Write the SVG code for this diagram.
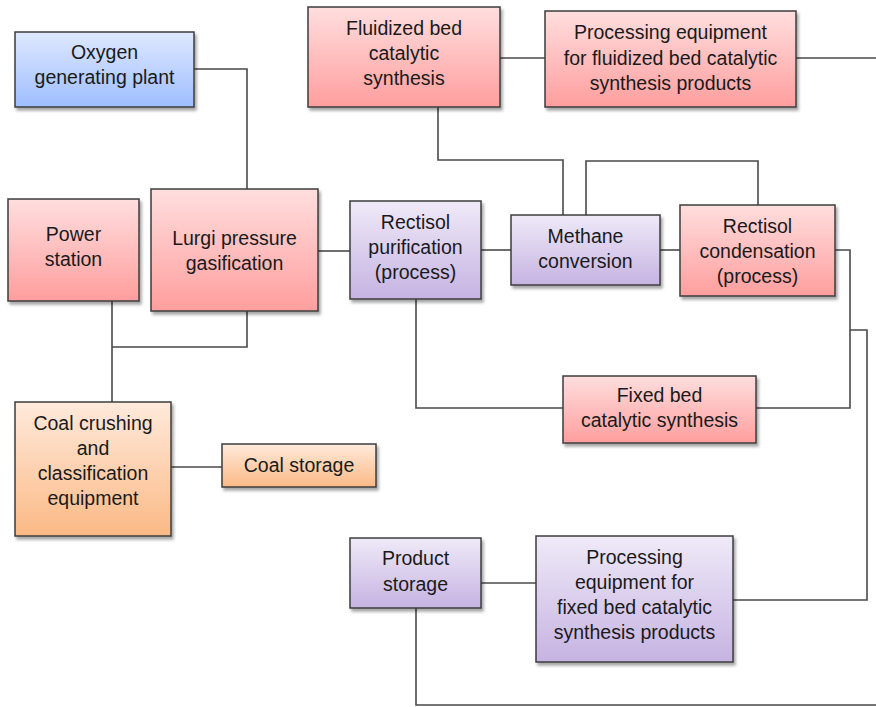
<svg xmlns="http://www.w3.org/2000/svg" width="876" height="707" viewBox="0 0 876 707">
<style>
.box{stroke:#3c3c3c;stroke-width:1.5;filter:url(#sh)}
.red{fill:url(#gRed)}
.blue{fill:url(#gBlue)}
.pur{fill:url(#gPur)}
.org{fill:url(#gOrg)}
text{font-family:"Liberation Sans",Arial,sans-serif;font-size:19.5px;fill:#1a1a1a;text-anchor:middle}
.conn path{fill:none;stroke:#4a4a4a;stroke-width:1.6}
</style>
<defs>
<linearGradient id="gRed" x1="0" y1="0" x2="0" y2="1"><stop offset="0" stop-color="#ffdede"/><stop offset="1" stop-color="#ff9e9e"/></linearGradient>
<linearGradient id="gBlue" x1="0" y1="0" x2="0" y2="1"><stop offset="0" stop-color="#dfe9ff"/><stop offset="1" stop-color="#9ebeff"/></linearGradient>
<linearGradient id="gPur" x1="0" y1="0" x2="0" y2="1"><stop offset="0" stop-color="#efeaf8"/><stop offset="1" stop-color="#c6b3e2"/></linearGradient>
<linearGradient id="gOrg" x1="0" y1="0" x2="0" y2="1"><stop offset="0" stop-color="#ffeadc"/><stop offset="1" stop-color="#fbb985"/></linearGradient>
<filter id="sh" x="-10%" y="-10%" width="125%" height="130%"><feDropShadow dx="2" dy="3" stdDeviation="1.5" flood-color="#000" flood-opacity="0.35"/></filter>
</defs>
<g class="conn" id="connectors">
<path d="M194,69 H247 V189"/>
<path d="M112,301 V402"/>
<path d="M247,311 V347 H112"/>
<path d="M171,467 H222"/>
<path d="M318,251 H350"/>
<path d="M481,250 H511"/>
<path d="M416,299 V408 H563"/>
<path d="M438,107 V160 H563 V215"/>
<path d="M586,215 V161 H758 V205"/>
<path d="M660,250 H680"/>
<path d="M835,250 H850 V408 H756"/>
<path d="M850,330 H867 V600 H733"/>
<path d="M500,58 H545"/>
<path d="M796,58 H876"/>
<path d="M481,583 H536"/>
<path d="M416,608 V705 H876"/>
</g>
<g id="oxygen"><rect class="box blue" x="15" y="32" width="179" height="75"/><text x="104.5" y="59">Oxygen</text><text x="104.5" y="84">generating plant</text></g>
<g id="power"><rect class="box red" x="8" y="199" width="131" height="102"/><text x="73.5" y="241">Power</text><text x="73.5" y="266">station</text></g>
<g id="lurgi"><rect class="box red" x="151" y="189" width="167" height="122"/><text x="234.5" y="245">Lurgi pressure</text><text x="234.5" y="270">gasification</text></g>
<g id="rectisol-purification"><rect class="box pur" x="350" y="201" width="131" height="98"/><text x="415.5" y="229">Rectisol</text><text x="415.5" y="254">purification</text><text x="415.5" y="279">(process)</text></g>
<g id="methane"><rect class="box pur" x="511" y="215" width="149" height="70"/><text x="585.5" y="243">Methane</text><text x="585.5" y="268">conversion</text></g>
<g id="rectisol-condensation"><rect class="box red" x="680" y="205" width="155" height="91"/><text x="757.5" y="233">Rectisol</text><text x="757.5" y="258">condensation</text><text x="757.5" y="283">(process)</text></g>
<g id="fluidized"><rect class="box red" x="308" y="7" width="192" height="100"/><text x="404" y="35">Fluidized bed</text><text x="404" y="60">catalytic</text><text x="404" y="85">synthesis</text></g>
<g id="processing-fluidized"><rect class="box red" x="545" y="11" width="251" height="96"/><text x="670.5" y="39">Processing equipment</text><text x="670.5" y="65">for fluidized bed catalytic</text><text x="670.5" y="90">synthesis products</text></g>
<g id="fixed-bed"><rect class="box red" x="563" y="376" width="193" height="67"/><text x="659.5" y="402">Fixed bed</text><text x="659.5" y="427">catalytic synthesis</text></g>
<g id="coal-crushing"><rect class="box org" x="15" y="402" width="156" height="134"/><text x="93" y="430">Coal crushing</text><text x="93" y="455">and</text><text x="93" y="480">classification</text><text x="93" y="505">equipment</text></g>
<g id="coal-storage"><rect class="box org" x="222" y="444" width="154" height="43"/><text x="299" y="472">Coal storage</text></g>
<g id="product-storage"><rect class="box pur" x="350" y="538" width="131" height="70"/><text x="415.5" y="565">Product</text><text x="415.5" y="591">storage</text></g>
<g id="processing-fixed"><rect class="box pur" x="536" y="536" width="197" height="126"/><text x="634.5" y="564">Processing</text><text x="634.5" y="589">equipment for</text><text x="634.5" y="614">fixed bed catalytic</text><text x="634.5" y="639">synthesis products</text></g>
</svg>
